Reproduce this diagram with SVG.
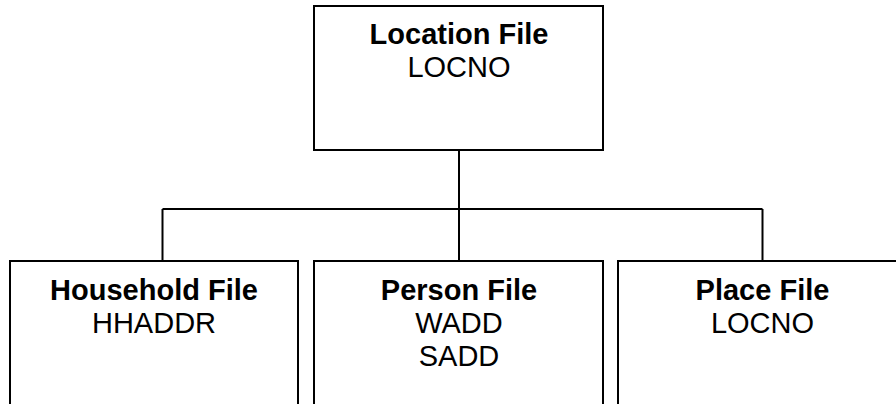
<svg xmlns="http://www.w3.org/2000/svg" width="896" height="404" viewBox="0 0 896 404">
<style>
.box{fill:#fff;stroke:#000;stroke-width:2}
.ln{fill:none;stroke:#000;stroke-width:2}
text{font-family:"Liberation Sans",Arial,sans-serif;font-size:29px;fill:#000;text-anchor:middle}
.t{font-weight:bold}
</style>
<rect width="896" height="404" fill="#fff"/>
<g id="connectors">
<path class="ln" d="M459 150V209M162.5 209H762.5M162.5 209V261M459 209V261M762.5 209V261"/>
</g>
<g id="location">
<rect class="box" x="314" y="6" width="289" height="144"/>
<text class="t" x="459" y="43.5">Location File</text>
<text x="459" y="76.5">LOCNO</text>
</g>
<g id="household">
<rect class="box" x="10" y="261" width="288" height="160"/>
<text class="t" x="154" y="299.5">Household File</text>
<text x="154" y="332.5">HHADDR</text>
</g>
<g id="person">
<rect class="box" x="314" y="261" width="289" height="160"/>
<text class="t" x="459" y="299.5">Person File</text>
<text x="459" y="332.5">WADD</text>
<text x="459" y="365.5">SADD</text>
</g>
<g id="place">
<rect class="box" x="618" y="261" width="289" height="160"/>
<text class="t" x="762.5" y="299.5">Place File</text>
<text x="762.5" y="332.5">LOCNO</text>
</g>
</svg>
